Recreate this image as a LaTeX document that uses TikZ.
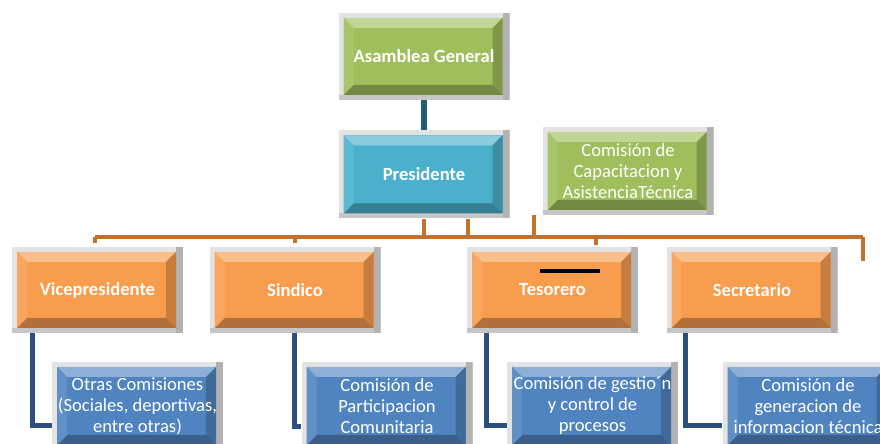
\documentclass[tikz,border=0pt]{standalone}
\usepackage{fontspec}
\setmainfont{Carlito}
\usetikzlibrary{positioning}
\definecolor{gface}{HTML}{9FBF5C}
\definecolor{cface}{HTML}{4BB0CC}
\definecolor{oface}{HTML}{F89C4E}
\definecolor{bface}{HTML}{4F84C0}
\definecolor{tealline}{HTML}{215E73}
\definecolor{orline}{HTML}{C2722E}
\definecolor{blline}{HTML}{2B4F7E}
\begin{document}
\begin{tikzpicture}[x=1pt, y=1pt,
        bevelbox/.style={rectangle, inner sep=0pt, minimum width=171pt, minimum height=87pt, align=center, text=white, fill=gray!22,
            font=\fontsize{18.6}{21}\selectfont,
            path picture={
                \coordinate (nw) at (path picture bounding box.north west);
                \coordinate (ne) at (path picture bounding box.north east);
                \coordinate (sw) at (path picture bounding box.south west);
                \coordinate (se) at (path picture bounding box.south east);
                \fill[gray!60] ([xshift=-7]ne) rectangle (se);
                \fill[gray!45] (sw) rectangle ([shift={(-7,5)}]se);
                \fill[#1] ([shift={(5,-5)}]nw) rectangle ([shift={(-7,5)}]se);
                \fill[#1!65!white] ([shift={(5,-5)}]nw) -- ([shift={(-7,-5)}]ne) -- ([shift={(-17,-15)}]ne) -- ([shift={(15,-15)}]nw) -- cycle;
                \fill[#1!80!black] ([shift={(-7,-5)}]ne) -- ([shift={(-7,5)}]se) -- ([shift={(-17,15)}]se) -- ([shift={(-17,-15)}]ne) -- cycle;
                \fill[#1!72!black] ([shift={(5,5)}]sw) -- ([shift={(-7,5)}]se) -- ([shift={(-17,15)}]se) -- ([shift={(15,15)}]sw) -- cycle;
                \fill[#1!90!white] ([shift={(5,-5)}]nw) -- ([shift={(5,5)}]sw) -- ([shift={(15,15)}]sw) -- ([shift={(15,-15)}]nw) -- cycle;
            }},
        boldbox/.style={bevelbox=#1, font=\fontsize{18.6}{21}\selectfont\bfseries},
        tline/.style={draw=tealline, line width=6pt},
        oline/.style={draw=orline, line width=4.5pt},
        bline/.style={draw=blline, line width=5pt}
    ]
        \useasboundingbox (0,0) rectangle (880,444);
        \clip (0,0) rectangle (880,444);

        \node[boldbox=gface] (asamblea) at (424,387.5) {Asamblea General};
        \node[boldbox=cface, minimum height=88pt, below=30pt of asamblea] (pres) {Presidente};
        \node[bevelbox=gface, minimum height=88pt] (capac) at (628,273) {Comisión de\\Capacitacion y\\AsistenciaTécnica};

        \node[boldbox=oface, minimum height=86pt] (vice) at (97.5,154) {Vicepresidente};
        \node[boldbox=oface, minimum height=86pt] (sind) at (295,154) {Sindico};
        \node[boldbox=oface, minimum height=86pt] (tes) at (552.5,154) {Tesorero};
        \node[boldbox=oface, minimum height=86pt] (secr) at (752,154) {Secretario};

        \node[bevelbox=bface, minimum height=88pt] (otras) at (137.5,38) {Otras Comisiones\\(Sociales, deportivas,\\entre otras)};
        \node[bevelbox=bface, minimum height=88pt] (parti) at (387,38) {Comisión de\\Participacion\\Comunitaria};
        \node[bevelbox=bface, minimum height=88pt] (gest) at (592.5,38) {Comisión de gestio´n\\y control de\\procesos};
        \node[bevelbox=bface, minimum height=88pt] (gener) at (808,38) {Comisión de\\generacion de\\informacion técnica};

        % junctions of the orange bar
        \coordinate (trl) at (95,207);
        \coordinate (trr) at (863,207);
        \coordinate (j1) at (468,207);
        \coordinate (j2) at (534,207);
        \coordinate (j3) at (596,207);
        \coordinate (tend) at (863,183);

        \draw[tline] (asamblea.south) -- (pres.north);
        \draw[oline] (pres.south) -- (pres.south |- trl);
        \draw[oline] (pres.south -| j1) -- (j1);
        \draw[oline] (capac.south -| j2) -- (j2);
        \draw[oline] (trl) -- (trr);
        \draw[oline] (trl) -- ([yshift=4pt]vice.north -| trl);
        \draw[oline] (sind.north |- trl) -- ([yshift=4pt]sind.north);
        \draw[oline] (j3) -- ([yshift=2pt]tes.north -| j3);
        \draw[oline] (trr) -- (tend);

        % corners of the blue links
        \coordinate (b1) at (32,18);
        \coordinate (b2) at (294,17);
        \coordinate (b3) at (486,18);
        \coordinate (b4) at (685,18);
        \draw[bline] (vice.south -| b1) -- (b1) -- (otras.west |- b1);
        \draw[bline] (sind.south -| b2) -- (b2) -- (parti.west |- b2);
        \draw[bline] (tes.south -| b3) -- (b3) -- (gest.west |- b3);
        \draw[bline] (secr.south -| b4) -- (b4) -- (gener.west |- b4);

        \draw[line width=4pt] ([shift={(-12.5,19)}]tes.center) -- ++(60,0);
    \end{tikzpicture}
\end{document}
